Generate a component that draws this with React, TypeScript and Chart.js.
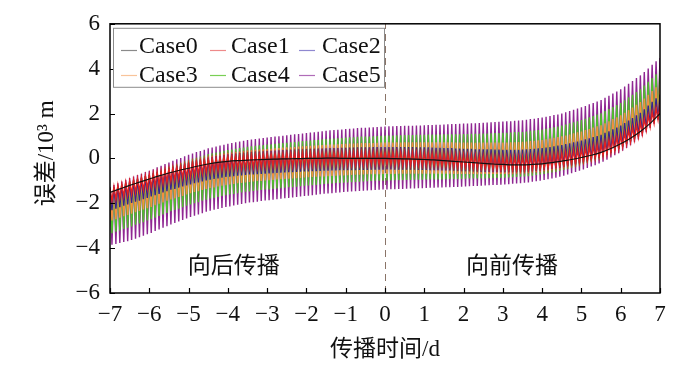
import React, { useEffect, useRef } from "react";
import { Chart, registerables } from "chart.js";

Chart.register(...registerables);

// ---- data ----
// times (days) of the oscillation maxima and minima
const peakTimes = [
  -7, -6.9, -6.8, -6.7, -6.6, -6.5, -6.4, -6.3, -6.2, -6.1,
  -6, -5.9, -5.8, -5.7, -5.6, -5.5, -5.4, -5.3, -5.2, -5.1,
  -5, -4.9, -4.8, -4.7, -4.6, -4.5, -4.4, -4.3, -4.2, -4.1,
  -4, -3.9, -3.8, -3.7, -3.6, -3.5, -3.4, -3.3, -3.2, -3.1,
  -3, -2.9, -2.8, -2.7, -2.6, -2.5, -2.4, -2.3, -2.2, -2.1,
  -2, -1.9, -1.8, -1.7, -1.6, -1.5, -1.4, -1.3, -1.2, -1.1,
  -1, -0.9, -0.8, -0.7, -0.6, -0.5, -0.4, -0.3, -0.2, -0.1,
  0, 0.1, 0.2, 0.3, 0.4, 0.5, 0.6, 0.7, 0.8, 0.9,
  1, 1.1, 1.2, 1.3, 1.4, 1.5, 1.6, 1.7, 1.8, 1.9,
  2, 2.1, 2.2, 2.3, 2.4, 2.5, 2.6, 2.7, 2.8, 2.9,
  3, 3.1, 3.2, 3.3, 3.4, 3.5, 3.6, 3.7, 3.8, 3.9,
  4, 4.1, 4.2, 4.3, 4.4, 4.5, 4.6, 4.7, 4.8, 4.9,
  5, 5.1, 5.2, 5.3, 5.4, 5.5, 5.6, 5.7, 5.8, 5.9,
  6, 6.1, 6.2, 6.3, 6.4, 6.5, 6.6, 6.7, 6.8, 6.9,
  7,
];
const troughTimes = [
  -6.95, -6.85, -6.75, -6.65, -6.55, -6.45, -6.35, -6.25, -6.15, -6.05,
  -5.95, -5.85, -5.75, -5.65, -5.55, -5.45, -5.35, -5.25, -5.15, -5.05,
  -4.95, -4.85, -4.75, -4.65, -4.55, -4.45, -4.35, -4.25, -4.15, -4.05,
  -3.95, -3.85, -3.75, -3.65, -3.55, -3.45, -3.35, -3.25, -3.15, -3.05,
  -2.95, -2.85, -2.75, -2.65, -2.55, -2.45, -2.35, -2.25, -2.15, -2.05,
  -1.95, -1.85, -1.75, -1.65, -1.55, -1.45, -1.35, -1.25, -1.15, -1.05,
  -0.95, -0.85, -0.75, -0.65, -0.55, -0.45, -0.35, -0.25, -0.15, -0.05,
  0.05, 0.15, 0.25, 0.35, 0.45, 0.55, 0.65, 0.75, 0.85, 0.95,
  1.05, 1.15, 1.25, 1.35, 1.45, 1.55, 1.65, 1.75, 1.85, 1.95,
  2.05, 2.15, 2.25, 2.35, 2.45, 2.55, 2.65, 2.75, 2.85, 2.95,
  3.05, 3.15, 3.25, 3.35, 3.45, 3.55, 3.65, 3.75, 3.85, 3.95,
  4.05, 4.15, 4.25, 4.35, 4.45, 4.55, 4.65, 4.75, 4.85, 4.95,
  5.05, 5.15, 5.25, 5.35, 5.45, 5.55, 5.65, 5.75, 5.85, 5.95,
  6.05, 6.15, 6.25, 6.35, 6.45, 6.55, 6.65, 6.75, 6.85, 6.95,
];

const case0Times = [
  -7, -6.75, -6.5, -6.25, -6, -5.75, -5.5, -5.25, -5, -4.75,
  -4.5, -4.25, -4, -3.75, -3.5, -3.25, -3, -2.75, -2.5, -2.25,
  -2, -1.75, -1.5, -1.25, -1, -0.75, -0.5, -0.25, 0, 0.25,
  0.5, 0.75, 1, 1.25, 1.5, 1.75, 2, 2.25, 2.5, 2.75,
  3, 3.25, 3.5, 3.75, 4, 4.25, 4.5, 4.75, 5, 5.25,
  5.5, 5.75, 6, 6.25, 6.5, 6.75, 7,
];
const case0 = [
  -1.52, -1.36, -1.2, -1.06, -0.92, -0.78, -0.65, -0.54, -0.44, -0.34,
  -0.25, -0.18, -0.13, -0.1, -0.08, -0.06, -0.04, -0.03, -0.02, -0.01,
  0.0, 0.0, 0.01, 0.01, 0.0, 0.0, 0.0, 0.0, 0.0, -0.01,
  -0.02, -0.03, -0.05, -0.07, -0.1, -0.13, -0.16, -0.19, -0.22, -0.25,
  -0.27, -0.29, -0.29, -0.27, -0.24, -0.19, -0.12, -0.05, 0.04, 0.14,
  0.27, 0.44, 0.65, 0.9, 1.2, 1.56, 2.0,
];

const case1Peaks = [
  -1.33, -1.27, -1.2, -1.14, -1.07, -1.01, -0.95, -0.9, -0.84, -0.78,
  -0.72, -0.67, -0.61, -0.56, -0.5, -0.44, -0.4, -0.36, -0.31, -0.26,
  -0.22, -0.18, -0.14, -0.1, -0.06, -0.02, 0, 0.03, 0.06, 0.09,
  0.11, 0.12, 0.13, 0.15, 0.16, 0.17, 0.18, 0.19, 0.2, 0.21,
  0.22, 0.22, 0.23, 0.23, 0.24, 0.25, 0.25, 0.26, 0.26, 0.27,
  0.27, 0.28, 0.28, 0.28, 0.28, 0.28, 0.29, 0.29, 0.29, 0.29,
  0.29, 0.29, 0.29, 0.3, 0.3, 0.3, 0.3, 0.3, 0.3, 0.3,
  0.3, 0.3, 0.29, 0.3, 0.29, 0.29, 0.28, 0.28, 0.27, 0.27,
  0.26, 0.26, 0.25, 0.24, 0.23, 0.22, 0.21, 0.21, 0.19, 0.18,
  0.17, 0.16, 0.16, 0.14, 0.13, 0.12, 0.11, 0.11, 0.1, 0.09,
  0.08, 0.07, 0.07, 0.07, 0.07, 0.07, 0.08, 0.09, 0.1, 0.12,
  0.13, 0.15, 0.18, 0.2, 0.23, 0.25, 0.29, 0.32, 0.36, 0.39,
  0.42, 0.48, 0.52, 0.57, 0.61, 0.66, 0.75, 0.82, 0.9, 0.97,
  1.05, 1.16, 1.28, 1.39, 1.5, 1.61, 1.77, 1.93, 2.09, 2.25,
  2.42,
];
const case1Troughs = [
  -1.9, -1.83, -1.77, -1.7, -1.64, -1.58, -1.52, -1.47, -1.41, -1.35,
  -1.3, -1.24, -1.18, -1.13, -1.07, -1.02, -0.98, -0.93, -0.88, -0.84,
  -0.8, -0.76, -0.72, -0.68, -0.64, -0.61, -0.58, -0.56, -0.53, -0.5,
  -0.49, -0.47, -0.46, -0.45, -0.44, -0.42, -0.41, -0.4, -0.4, -0.39,
  -0.38, -0.38, -0.37, -0.36, -0.36, -0.35, -0.35, -0.34, -0.33, -0.33,
  -0.33, -0.32, -0.32, -0.32, -0.32, -0.32, -0.31, -0.31, -0.31, -0.31,
  -0.31, -0.31, -0.31, -0.3, -0.3, -0.3, -0.3, -0.3, -0.3, -0.3,
  -0.3, -0.3, -0.31, -0.31, -0.31, -0.32, -0.32, -0.33, -0.33, -0.33,
  -0.34, -0.35, -0.36, -0.37, -0.38, -0.38, -0.39, -0.4, -0.42, -0.43,
  -0.43, -0.44, -0.45, -0.47, -0.48, -0.48, -0.49, -0.5, -0.51, -0.52,
  -0.52, -0.53, -0.53, -0.53, -0.53, -0.53, -0.51, -0.5, -0.49, -0.48,
  -0.46, -0.44, -0.41, -0.39, -0.36, -0.33, -0.3, -0.26, -0.23, -0.19,
  -0.15, -0.1, -0.06, -0.01, 0.04, 0.1, 0.18, 0.26, 0.34, 0.41,
  0.51, 0.62, 0.73, 0.84, 0.95, 1.09, 1.25, 1.41, 1.57, 1.73,
];

const case2Peaks = [
  -1.34, -1.28, -1.21, -1.15, -1.08, -1.02, -0.96, -0.91, -0.85, -0.79,
  -0.73, -0.67, -0.61, -0.55, -0.49, -0.43, -0.38, -0.33, -0.28, -0.23,
  -0.18, -0.13, -0.09, -0.05, -0.01, 0.04, 0.07, 0.1, 0.13, 0.16,
  0.18, 0.2, 0.22, 0.24, 0.25, 0.27, 0.28, 0.3, 0.31, 0.32,
  0.33, 0.34, 0.35, 0.36, 0.37, 0.38, 0.38, 0.39, 0.4, 0.41,
  0.42, 0.43, 0.43, 0.44, 0.44, 0.45, 0.46, 0.46, 0.46, 0.47,
  0.47, 0.48, 0.48, 0.49, 0.49, 0.49, 0.49, 0.5, 0.5, 0.5,
  0.51, 0.51, 0.5, 0.51, 0.5, 0.5, 0.5, 0.5, 0.49, 0.49,
  0.49, 0.49, 0.48, 0.47, 0.47, 0.46, 0.46, 0.46, 0.44, 0.44,
  0.43, 0.43, 0.43, 0.41, 0.41, 0.4, 0.4, 0.4, 0.39, 0.39,
  0.38, 0.38, 0.38, 0.38, 0.38, 0.39, 0.4, 0.42, 0.43, 0.45,
  0.46, 0.48, 0.51, 0.54, 0.57, 0.6, 0.64, 0.67, 0.72, 0.75,
  0.79, 0.85, 0.89, 0.95, 1, 1.05, 1.14, 1.21, 1.3, 1.37,
  1.46, 1.57, 1.69, 1.8, 1.92, 2.03, 2.19, 2.36, 2.52, 2.68,
  2.85,
];
const case2Troughs = [
  -2.31, -2.24, -2.18, -2.11, -2.05, -1.99, -1.93, -1.88, -1.82, -1.76,
  -1.7, -1.64, -1.58, -1.52, -1.46, -1.4, -1.36, -1.3, -1.25, -1.2,
  -1.16, -1.11, -1.07, -1.03, -0.98, -0.95, -0.92, -0.89, -0.86, -0.83,
  -0.81, -0.79, -0.77, -0.76, -0.74, -0.72, -0.71, -0.7, -0.69, -0.68,
  -0.67, -0.66, -0.65, -0.64, -0.63, -0.62, -0.61, -0.6, -0.59, -0.58,
  -0.58, -0.57, -0.57, -0.56, -0.55, -0.55, -0.54, -0.54, -0.53, -0.53,
  -0.53, -0.52, -0.52, -0.51, -0.51, -0.51, -0.5, -0.5, -0.5, -0.5,
  -0.49, -0.49, -0.5, -0.5, -0.5, -0.5, -0.5, -0.5, -0.51, -0.51,
  -0.51, -0.52, -0.52, -0.53, -0.54, -0.54, -0.54, -0.55, -0.56, -0.57,
  -0.57, -0.57, -0.58, -0.59, -0.6, -0.6, -0.6, -0.61, -0.61, -0.62,
  -0.62, -0.62, -0.62, -0.62, -0.61, -0.61, -0.59, -0.58, -0.56, -0.55,
  -0.53, -0.5, -0.47, -0.45, -0.42, -0.38, -0.35, -0.31, -0.27, -0.23,
  -0.18, -0.13, -0.08, -0.03, 0.02, 0.09, 0.17, 0.25, 0.34, 0.42,
  0.52, 0.63, 0.74, 0.86, 0.97, 1.11, 1.27, 1.44, 1.6, 1.76,
];

const case3Peaks = [
  -1.4, -1.34, -1.27, -1.21, -1.15, -1.09, -1.03, -0.97, -0.91, -0.85,
  -0.79, -0.73, -0.66, -0.59, -0.52, -0.46, -0.41, -0.35, -0.29, -0.24,
  -0.18, -0.13, -0.08, -0.04, 0.01, 0.07, 0.1, 0.13, 0.16, 0.2,
  0.23, 0.25, 0.28, 0.3, 0.32, 0.35, 0.36, 0.38, 0.4, 0.41,
  0.42, 0.43, 0.45, 0.46, 0.48, 0.49, 0.5, 0.51, 0.53, 0.54,
  0.55, 0.56, 0.57, 0.58, 0.6, 0.61, 0.62, 0.62, 0.63, 0.64,
  0.65, 0.66, 0.66, 0.67, 0.68, 0.68, 0.69, 0.69, 0.7, 0.71,
  0.71, 0.72, 0.71, 0.72, 0.71, 0.72, 0.72, 0.72, 0.72, 0.72,
  0.72, 0.72, 0.72, 0.72, 0.72, 0.72, 0.72, 0.72, 0.71, 0.71,
  0.71, 0.71, 0.71, 0.7, 0.71, 0.71, 0.71, 0.71, 0.71, 0.71,
  0.71, 0.71, 0.72, 0.72, 0.73, 0.74, 0.75, 0.77, 0.79, 0.81,
  0.82, 0.85, 0.88, 0.92, 0.95, 0.98, 1.02, 1.06, 1.12, 1.16,
  1.2, 1.26, 1.31, 1.37, 1.43, 1.48, 1.57, 1.65, 1.75, 1.83,
  1.92, 2.03, 2.15, 2.27, 2.39, 2.51, 2.67, 2.84, 3, 3.17,
  3.33,
];
const case3Troughs = [
  -2.77, -2.71, -2.64, -2.58, -2.52, -2.46, -2.4, -2.34, -2.28, -2.22,
  -2.16, -2.09, -2.02, -1.96, -1.89, -1.83, -1.78, -1.72, -1.67, -1.61,
  -1.55, -1.5, -1.46, -1.41, -1.36, -1.32, -1.29, -1.25, -1.22, -1.19,
  -1.16, -1.14, -1.11, -1.09, -1.07, -1.05, -1.03, -1.01, -1, -0.98,
  -0.97, -0.96, -0.94, -0.93, -0.92, -0.91, -0.89, -0.88, -0.87, -0.85,
  -0.84, -0.83, -0.82, -0.81, -0.8, -0.79, -0.78, -0.77, -0.76, -0.76,
  -0.75, -0.74, -0.73, -0.73, -0.72, -0.71, -0.71, -0.7, -0.7, -0.69,
  -0.69, -0.69, -0.69, -0.68, -0.68, -0.68, -0.68, -0.68, -0.68, -0.68,
  -0.68, -0.68, -0.68, -0.68, -0.68, -0.68, -0.68, -0.69, -0.69, -0.69,
  -0.69, -0.69, -0.69, -0.7, -0.69, -0.69, -0.69, -0.69, -0.69, -0.69,
  -0.69, -0.69, -0.68, -0.67, -0.67, -0.66, -0.64, -0.62, -0.6, -0.58,
  -0.56, -0.53, -0.5, -0.47, -0.44, -0.4, -0.36, -0.31, -0.26, -0.22,
  -0.17, -0.11, -0.06, 0, 0.05, 0.13, 0.21, 0.3, 0.39, 0.47,
  0.57, 0.69, 0.81, 0.93, 1.05, 1.19, 1.35, 1.52, 1.68, 1.85,
];

const case4Peaks = [
  -1.36, -1.3, -1.24, -1.18, -1.12, -1.06, -1, -0.93, -0.87, -0.8,
  -0.74, -0.68, -0.6, -0.54, -0.46, -0.39, -0.33, -0.27, -0.21, -0.14,
  -0.08, -0.02, 0.03, 0.08, 0.13, 0.19, 0.23, 0.26, 0.3, 0.34,
  0.37, 0.4, 0.43, 0.46, 0.49, 0.52, 0.54, 0.56, 0.58, 0.6,
  0.62, 0.63, 0.65, 0.67, 0.68, 0.7, 0.72, 0.73, 0.75, 0.77,
  0.78, 0.8, 0.82, 0.83, 0.85, 0.86, 0.88, 0.89, 0.9, 0.91,
  0.93, 0.94, 0.94, 0.96, 0.97, 0.98, 0.98, 0.99, 1, 1.01,
  1.02, 1.02, 1.02, 1.03, 1.03, 1.04, 1.04, 1.04, 1.05, 1.05,
  1.05, 1.06, 1.06, 1.06, 1.06, 1.07, 1.07, 1.08, 1.08, 1.08,
  1.09, 1.09, 1.1, 1.1, 1.1, 1.11, 1.11, 1.12, 1.13, 1.13,
  1.14, 1.14, 1.15, 1.17, 1.17, 1.18, 1.2, 1.23, 1.24, 1.27,
  1.29, 1.32, 1.35, 1.39, 1.42, 1.46, 1.51, 1.56, 1.61, 1.66,
  1.71, 1.77, 1.83, 1.89, 1.96, 2.01, 2.11, 2.2, 2.29, 2.38,
  2.47, 2.59, 2.72, 2.84, 2.96, 3.08, 3.25, 3.42, 3.58, 3.75,
  3.92,
];
const case4Troughs = [
  -3.33, -3.27, -3.21, -3.15, -3.09, -3.03, -2.96, -2.9, -2.84, -2.77,
  -2.71, -2.64, -2.57, -2.5, -2.43, -2.36, -2.3, -2.24, -2.18, -2.11,
  -2.05, -2, -1.95, -1.89, -1.84, -1.79, -1.76, -1.72, -1.68, -1.64,
  -1.61, -1.58, -1.55, -1.52, -1.49, -1.47, -1.45, -1.43, -1.41, -1.39,
  -1.38, -1.36, -1.34, -1.33, -1.31, -1.29, -1.28, -1.26, -1.24, -1.22,
  -1.21, -1.19, -1.18, -1.16, -1.14, -1.13, -1.12, -1.1, -1.09, -1.08,
  -1.07, -1.06, -1.05, -1.04, -1.03, -1.02, -1.01, -1, -1, -0.99,
  -0.98, -0.98, -0.97, -0.97, -0.97, -0.96, -0.96, -0.95, -0.95, -0.95,
  -0.94, -0.94, -0.94, -0.94, -0.94, -0.93, -0.92, -0.92, -0.92, -0.92,
  -0.91, -0.9, -0.9, -0.9, -0.9, -0.89, -0.88, -0.88, -0.87, -0.87,
  -0.86, -0.85, -0.84, -0.83, -0.82, -0.81, -0.79, -0.77, -0.74, -0.72,
  -0.69, -0.66, -0.63, -0.6, -0.56, -0.52, -0.47, -0.42, -0.37, -0.32,
  -0.26, -0.2, -0.14, -0.08, -0.02, 0.06, 0.15, 0.24, 0.34, 0.43,
  0.53, 0.66, 0.78, 0.9, 1.02, 1.16, 1.33, 1.5, 1.67, 1.84,
];

const case5Peaks = [
  -1.27, -1.19, -1.11, -1.03, -0.95, -0.87, -0.81, -0.74, -0.68, -0.61,
  -0.55, -0.48, -0.4, -0.33, -0.25, -0.18, -0.11, -0.04, 0.02, 0.09,
  0.16, 0.22, 0.28, 0.33, 0.39, 0.45, 0.49, 0.53, 0.57, 0.61,
  0.65, 0.68, 0.72, 0.75, 0.79, 0.82, 0.84, 0.86, 0.89, 0.91,
  0.93, 0.95, 0.97, 0.99, 1.01, 1.03, 1.05, 1.07, 1.09, 1.11,
  1.13, 1.15, 1.17, 1.19, 1.21, 1.23, 1.25, 1.26, 1.28, 1.29,
  1.31, 1.32, 1.33, 1.35, 1.36, 1.37, 1.38, 1.39, 1.4, 1.41,
  1.42, 1.43, 1.43, 1.44, 1.44, 1.45, 1.46, 1.46, 1.47, 1.47,
  1.48, 1.49, 1.49, 1.5, 1.5, 1.51, 1.52, 1.53, 1.53, 1.54,
  1.55, 1.56, 1.57, 1.57, 1.58, 1.59, 1.6, 1.61, 1.62, 1.63,
  1.64, 1.65, 1.66, 1.68, 1.69, 1.7, 1.72, 1.75, 1.77, 1.8,
  1.82, 1.86, 1.89, 1.93, 1.96, 2, 2.06, 2.11, 2.17, 2.22,
  2.28, 2.34, 2.41, 2.47, 2.54, 2.6, 2.7, 2.79, 2.89, 2.98,
  3.08, 3.2, 3.33, 3.45, 3.58, 3.7, 3.85, 4.01, 4.17, 4.33,
  4.48,
];
const case5Troughs = [
  -3.85, -3.81, -3.77, -3.73, -3.69, -3.64, -3.58, -3.51, -3.45, -3.38,
  -3.32, -3.24, -3.17, -3.09, -3.02, -2.95, -2.88, -2.81, -2.75, -2.68,
  -2.61, -2.55, -2.5, -2.44, -2.38, -2.33, -2.29, -2.25, -2.21, -2.17,
  -2.14, -2.1, -2.07, -2.03, -2, -1.97, -1.95, -1.93, -1.9, -1.88,
  -1.86, -1.84, -1.82, -1.8, -1.78, -1.76, -1.74, -1.72, -1.7, -1.68,
  -1.66, -1.64, -1.62, -1.6, -1.58, -1.56, -1.55, -1.53, -1.52, -1.5,
  -1.49, -1.48, -1.46, -1.45, -1.44, -1.43, -1.42, -1.41, -1.4, -1.39,
  -1.38, -1.37, -1.37, -1.36, -1.36, -1.35, -1.34, -1.34, -1.33, -1.33,
  -1.32, -1.31, -1.31, -1.3, -1.3, -1.29, -1.28, -1.27, -1.27, -1.26,
  -1.25, -1.24, -1.23, -1.23, -1.22, -1.21, -1.2, -1.19, -1.18, -1.17,
  -1.16, -1.15, -1.13, -1.12, -1.11, -1.09, -1.07, -1.04, -1.02, -0.99,
  -0.96, -0.93, -0.89, -0.86, -0.82, -0.77, -0.72, -0.66, -0.61, -0.55,
  -0.49, -0.43, -0.36, -0.3, -0.23, -0.15, -0.06, 0.04, 0.14, 0.23,
  0.34, 0.47, 0.59, 0.72, 0.84, 0.99, 1.17, 1.36, 1.54, 1.72,
];

const seriesNames = ["Case0", "Case1", "Case2", "Case3", "Case4", "Case5"];
const seriesColors = ["#111111", "#e3221f", "#2f2890", "#f29040", "#4fc02c", "#8f2792"];
const legendColors = ["#8a8a8a", "#ee8a8a", "#8f88d0", "#f8c49a", "#79cf55", "#b06cb8"];

const xMin = -7;
const xMax = 7;
const xStep = 1;
const yMin = -6;
const yMax = 6;
const yStep = 2;
const dividerAt = 0;

const xTitle = "传播时间/d";
const yTitle = "误差/10³ m";
const regionLabels = [
  { text: "向后传播", x: -3.85, y: -4.7 },
  { text: "向前传播", x: 3.23, y: -4.7 },
];

const SERIF = '"Liberation Serif", "Times New Roman", "Noto Sans CJK SC", serif';
const CJK = '"Noto Sans CJK SC", "Liberation Serif", sans-serif';

const fmtTick = (v: number | string) => {
  const n = Number(v);
  return n < 0 ? "\u2212" + Math.abs(n) : String(n);
};

// merge maxima and minima (already) into one time-ordered list
const mergeExtrema = (peaks: number[], troughs: number[]) => {
  const out: { x: number; y: number }[] = [];
  peaks.forEach((p, i) => {
    out.push({ x: peakTimes[i], y: p });
    if (i < troughs.length) out.push({ x: troughTimes[i], y: troughs[i] });
  });
  return out;
};

const decorPlugin = {
  id: "decor",
  beforeDatasetsDraw(chart: any) {
    const { ctx, chartArea: a, scales } = chart;
    const px = Math.round(scales.x.getPixelForValue(dividerAt)) + 0.5;
    ctx.save();
    ctx.strokeStyle = "#8a7468";
    ctx.lineWidth = 1;
    ctx.setLineDash([7, 5]);
    ctx.beginPath();
    ctx.moveTo(px, a.bottom);
    ctx.lineTo(px, a.top);
    ctx.stroke();
    ctx.restore();
  },
  afterDatasetsDraw(chart: any) {
    const { ctx, chartArea: a, scales } = chart;
    ctx.save();
    ctx.strokeStyle = "#000";
    ctx.lineWidth = 1.5;
    ctx.strokeRect(a.left, a.top, a.right - a.left, a.bottom - a.top);
    ctx.lineWidth = 1.2;
    ctx.beginPath();
    scales.x.ticks.forEach((t: any) => {
      const p = Math.round(scales.x.getPixelForValue(t.value)) + 0.5;
      ctx.moveTo(p, a.bottom);
      ctx.lineTo(p, a.bottom - 5);
    });
    scales.y.ticks.forEach((t: any) => {
      const p = Math.round(scales.y.getPixelForValue(t.value)) + 0.5;
      ctx.moveTo(a.left, p);
      ctx.lineTo(a.left + 5, p);
    });
    ctx.stroke();

    // legend
    const bx = a.left + 3;
    const by = a.top + 4;
    ctx.fillStyle = "#fff";
    ctx.fillRect(bx, by, 271, 59);
    ctx.strokeStyle = "#8c8c8c";
    ctx.lineWidth = 1;
    ctx.strokeRect(bx + 0.5, by + 0.5, 271, 59);
    const colLine = [11, 100, 189];
    const colText = [29, 121, 212];
    const rowBase = [29, 58];
    const rowLine = [26, 51];
    ctx.font = "24px " + SERIF;
    ctx.textAlign = "left";
    ctx.textBaseline = "alphabetic";
    seriesNames.forEach((name, i) => {
      const c = i % 3;
      const r = Math.floor(i / 3);
      const ly = Math.round(a.top + rowLine[r]) + 0.5;
      ctx.strokeStyle = legendColors[i];
      ctx.lineWidth = 1.2;
      ctx.beginPath();
      ctx.moveTo(a.left + colLine[c], ly);
      ctx.lineTo(a.left + colLine[c] + 16, ly);
      ctx.stroke();
      ctx.fillStyle = "#111";
      ctx.fillText(name, a.left + colText[c], a.top + rowBase[r]);
    });

    ctx.font = "23px " + CJK;
    ctx.textAlign = "center";
    ctx.textBaseline = "middle";
    ctx.fillStyle = "#111";
    regionLabels.forEach((l) => {
      ctx.fillText(l.text, scales.x.getPixelForValue(l.x), scales.y.getPixelForValue(l.y));
    });

    ctx.font = "23px " + SERIF;
    ctx.fillText(xTitle, (a.left + a.right) / 2, 350);
    ctx.translate(47, (a.top + a.bottom) / 2 - 5);
    ctx.rotate(-Math.PI / 2);
    ctx.fillText(yTitle, 0, 0);
    ctx.restore();
  },
};

export default function App() {
  const ref = useRef<HTMLCanvasElement | null>(null);

  useEffect(() => {
    if (!ref.current) return;
    const oscillating = [
      [case1Peaks, case1Troughs],
      [case2Peaks, case2Troughs],
      [case3Peaks, case3Troughs],
      [case4Peaks, case4Troughs],
      [case5Peaks, case5Troughs],
    ];
    const datasets: any[] = [
      {
        label: seriesNames[0],
        data: case0Times.map((t, i) => ({ x: t, y: case0[i] })),
        borderColor: seriesColors[0],
        borderWidth: 1.2,
        pointRadius: 0,
        cubicInterpolationMode: "monotone",
      },
      ...oscillating.map(([pk, tr], k) => ({
        label: seriesNames[k + 1],
        data: mergeExtrema(pk, tr),
        borderColor: seriesColors[k + 1],
        borderWidth: 1.4,
        pointRadius: 0,
        tension: 0,
      })),
    ];

    const chart = new Chart(ref.current, {
      type: "line",
      data: { datasets },
      plugins: [decorPlugin],
      options: {
        responsive: false,
        animation: false,
        devicePixelRatio: 1,
        layout: { padding: { top: 17, right: 40, left: 0, bottom: 0 } },
        plugins: { legend: { display: false }, tooltip: { enabled: false } },
        scales: {
          x: {
            type: "linear",
            min: xMin,
            max: xMax,
            grid: { display: false, drawTicks: false },
            border: { display: false },
            ticks: {
              stepSize: xStep,
              autoSkip: false,
              maxRotation: 0,
              color: "#111",
              padding: 8,
              font: { family: SERIF, size: 23 },
              callback: (v: any) => fmtTick(v),
            },
            afterFit: (s: any) => {
              s.height = 74;
            },
          },
          y: {
            type: "linear",
            min: yMin,
            max: yMax,
            grid: { display: false, drawTicks: false },
            border: { display: false },
            ticks: {
              stepSize: yStep,
              color: "#111",
              padding: 10,
              font: { family: SERIF, size: 23 },
              callback: (v: any) => fmtTick(v),
            },
            afterFit: (s: any) => {
              s.width = 110;
            },
          },
        },
      },
    });
    return () => chart.destroy();
  }, []);

  return (
    <div style={{ position: "absolute", left: 0, top: 0, width: 700, height: 367, background: "#fff" }}>
      <canvas ref={ref} width={700} height={367} />
    </div>
  );
}
